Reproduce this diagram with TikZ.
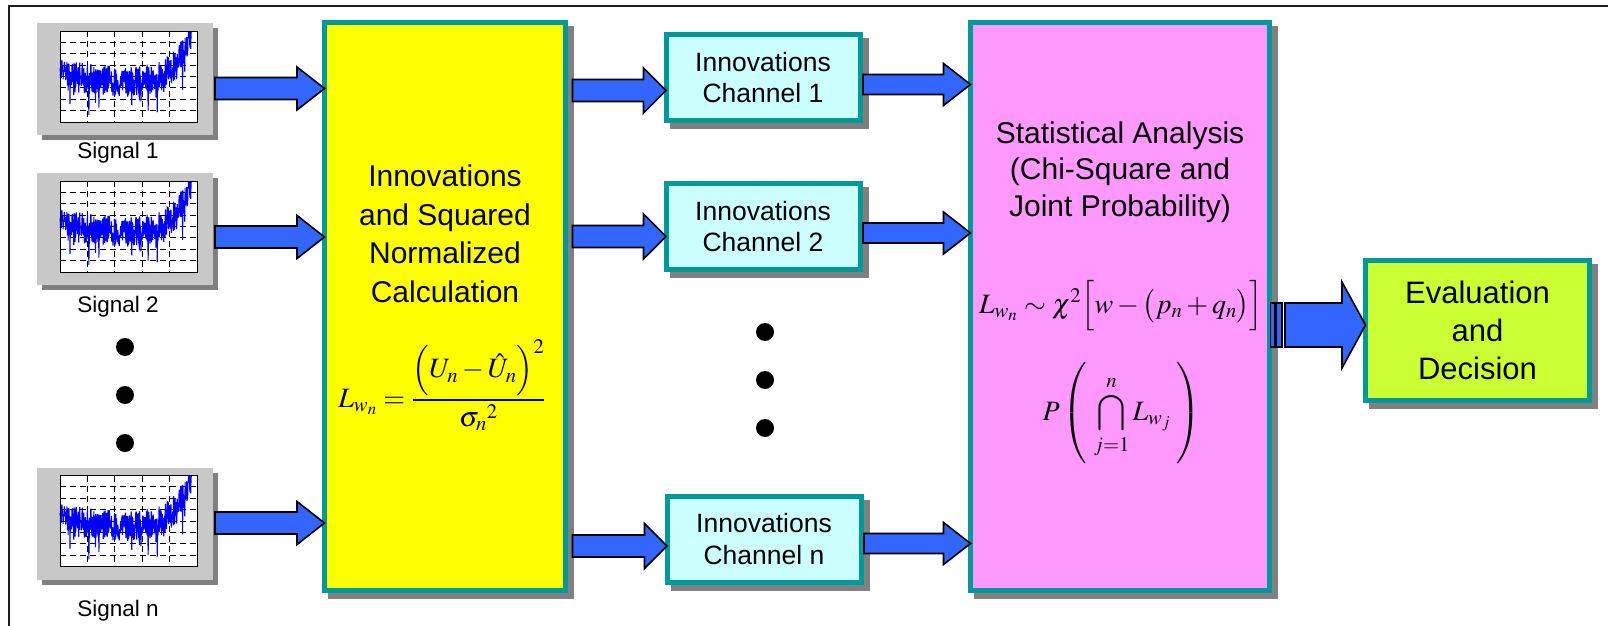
\documentclass[tikz,border=0pt]{standalone}
\usepackage{amsmath}
\usepackage{mathptmx}
\usepackage[no-math]{fontspec}
\setmainfont{Liberation Sans}
\usetikzlibrary{calc}
\definecolor{bordTeal}{RGB}{0,153,153}
\definecolor{shadowGray}{RGB}{128,128,128}
\definecolor{thumbGray}{RGB}{200,200,200}
\definecolor{yelFill}{RGB}{255,255,0}
\definecolor{pinkFill}{RGB}{255,153,255}
\definecolor{chanFill}{RGB}{204,255,255}
\definecolor{evalFill}{RGB}{204,255,51}
\definecolor{arrowBlue}{RGB}{51,102,255}
\definecolor{traceBlue}{RGB}{0,0,255}
\definecolor{frameCol}{RGB}{30,30,30}

\newcommand\barrow[7]{% from, to, y, startgap, halfshaft, halfhead, headlength
  \draw[barrowstyle] let \p1=(#1.east), \p2=(#2.west) in
    (\x1+#4pt,-#3pt+#5pt) -- (\x2-#7pt,-#3pt+#5pt) -- (\x2-#7pt,-#3pt+#6pt)
    -- (\x2,-#3pt) -- (\x2-#7pt,-#3pt-#6pt) -- (\x2-#7pt,-#3pt-#5pt)
    -- (\x1+#4pt,-#3pt-#5pt) -- cycle;}

\newcommand\thumb[5]{% name, cy, label name, label baseline, label text
  \node[thumbbox] (#1) at (125,#2) {};
  \begin{scope}[shift={($(#1.north west)+(23,8)$)}]
    \fill[white] (0,0) rectangle (137,91);
    \foreach \k in {1,...,4} \draw[gridline] ({\k*27.4},0) -- ({\k*27.4},91);
    \foreach \k in {1,...,7} \draw[gridline] (0,{\k*11.375}) -- (137,{\k*11.375});
    \pgfmathsetseed{11}
    \draw[traceBlue, line width=1.1pt, line join=bevel]
      plot[domain=0:0.965, samples=420]
      ({\x*137},{91*(1-min(0.99,max(0.06,0.52-0.07*sin(180*\x)+0.5*(\x/0.965)^9+0.17*rand-0.25*(rnd)^12)))});
    \draw[line width=0.6pt] (0,0) rectangle (137,91);
  \end{scope}
  \node[siglabel, anchor=base] (#3) at (118,#4) {#5};
}

\begin{document}
\begin{tikzpicture}[x=1pt,y=-1pt,
  box/.style={draw=bordTeal, line width=5pt, inner sep=0pt, outer sep=0pt,
    preaction={fill=shadowGray, draw=shadowGray, transform canvas={shift={(6,6)}}}},
  chbox/.style={box, fill=chanFill, minimum width=194pt, minimum height=86pt,
    align=center, font=\fontsize{26.5}{31.5}\selectfont},
  thumbbox/.style={fill=thumbGray, inner sep=0pt, outer sep=0pt,
    minimum width=176pt, minimum height=112pt,
    preaction={fill=shadowGray, transform canvas={shift={(5,5)}}}},
  gridline/.style={black, line width=0.8pt, dash pattern=on 6pt off 4pt},
  siglabel/.style={font=\fontsize{22.5}{27}\selectfont, inner sep=0pt},
  bigtext/.style={align=center, inner sep=0pt, font=\fontsize{30}{38.5}\selectfont},
  mathtext/.style={inner sep=0pt, font=\fontsize{28}{34}\selectfont},
  dot/.style={circle, fill=black, minimum size=18pt, inner sep=0pt},
  barrowstyle/.style={fill=arrowBlue, draw=black, line width=1.6pt, line join=miter}]

\useasboundingbox (0,0) rectangle (1608,626);
\fill[white] (0,0) rectangle (1608,626);
\draw[line width=2pt, frameCol] (9,626) -- (9,6) -- (1608,6);

% signal thumbnails
\thumb{sig1}{79}{lab1}{158}{Signal 1}
\thumb{sig2}{229}{lab2}{312}{Signal 2}
\thumb{sign}{523.5}{labn}{616}{Signal n}

% left dots
\node[dot] (ld1) at (125,347) {};
\node[dot] (ld2) at (125,395) {};
\node[dot] (ld3) at (125,443) {};

% main boxes
\node[box, fill=yelFill, minimum width=241pt, minimum height=568pt] (yel) at (445,306.5) {};
\node[box, fill=pinkFill, minimum width=299pt, minimum height=568pt] (pink) at (1120,306.5) {};
\node[chbox] (ch1) at (763,77.5) {Innovations\\Channel 1};
\node[chbox] (ch2) at (763,226.5) {Innovations\\Channel 2};
\node[chbox] (chn) at (764,539) {Innovations\\Channel n};
\node[box, fill=evalFill, minimum width=224pt, minimum height=140pt,
      align=center, font=\fontsize{31}{38}\selectfont] (eval) at (1477.5,330.5) {Evaluation\\and\\Decision};

% middle dots
\node[dot] (md1) at (765,332) {};
\node[dot] (md2) at (765,380) {};
\node[dot] (md3) at (765,428) {};

% yellow box content
\node[bigtext] (yeltext) at (445,234) {Innovations\\and Squared\\Normalized\\Calculation};
\node[mathtext, anchor=base] (yelform) at (442,407)
  {$\displaystyle L_{w_n} = \frac{\Bigl(U_n - \hat{U}_n\Bigr)^{2}}{{\sigma_n}^{2}}$};

% pink box content
\node[bigtext, font=\fontsize{30}{36.5}\selectfont] (pinktext) at (1120,172)
  {Statistical Analysis\\(Chi-Square and\\Joint Probability)};
\node[mathtext, anchor=base] (chiform) at (1121,313)
  {$L_{w_n} \sim \chi^{2}\Bigl[w - \bigl(p_n + q_n\bigr)\Bigr]$};
\node[mathtext, anchor=base] (probform) at (1122,420)
  {$\displaystyle P\left(\vrule height 58pt depth 44pt width 0pt\;\bigcap_{j=1}^{n} L_{w_j}\;\right)$};

% block arrows
\barrow{sig1}{yel}{88.5}{2}{11}{21.5}{27.5}
\barrow{sig2}{yel}{237}{2}{11}{21.5}{27.5}
\barrow{sign}{yel}{523}{2}{11}{21.5}{27.5}
\barrow{yel}{ch1}{90.5}{7}{11}{22.5}{22.5}
\barrow{yel}{ch2}{236.5}{7}{11}{22.5}{22.5}
\barrow{yel}{chn}{546}{7}{11}{22.5}{22.5}
\barrow{ch1}{pink}{84.5}{3}{10}{21}{27}
\barrow{ch2}{pink}{233}{3}{10}{21}{27}
\barrow{chn}{pink}{543.5}{3}{10}{21}{27}
\barrow{pink}{eval}{325}{15.5}{22}{43}{23.5}
\draw[barrowstyle, line width=1.2pt] let \p1=(pink.east) in
  (\x1+1.2pt,-303pt) rectangle (\x1+5.5pt,-347pt)
  (\x1+7pt,-303pt) rectangle (\x1+12.5pt,-347pt);
\end{tikzpicture}
\end{document}
